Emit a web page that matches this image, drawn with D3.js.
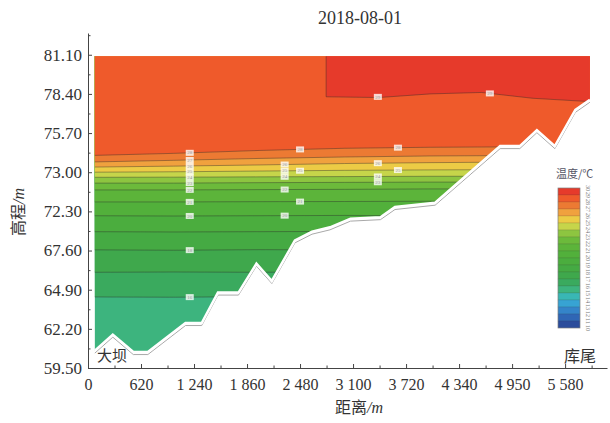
<!DOCTYPE html>
<html>
<head>
<meta charset="utf-8">
<script src="https://d3js.org/d3.v7.min.js"></script>
<style>
  body { margin: 0; background: #fff; }
  .num { font-family: "Liberation Serif", "DejaVu Serif", serif; fill: #333; }
  .cjk { font-family: "Noto Sans CJK SC", sans-serif; fill: #333; }
  .tick text { font-family: "Liberation Serif", "DejaVu Serif", serif; fill: #333; }
  .tick line, .domain { stroke: #444; }
</style>
</head>
<body>
<svg width="610" height="423"></svg>
<script>

var title = "2018-08-01";

// river bed along the section: distance (m) / elevation (m)
var bedDist = [80, 290, 530, 700, 1140, 1330, 1520, 1760, 1970, 2150, 2420, 2620, 2830, 3070, 3420, 3590, 4060, 4820, 5050, 5250, 5460, 5700, 5870];
var bedElev = [60.7, 61.8, 60.6, 60.6, 62.6, 62.6, 64.7, 64.7, 66.7, 65.5, 68.3, 68.9, 69.2, 69.8, 69.9, 70.6, 70.9, 74.8, 74.8, 75.9, 74.8, 77.3, 78.0];
var waterLevel = 81.0;

// isotherms: temperature (C) and their elevation at each station
var isoDist = [0, 1000, 2000, 3000, 4000, 5000, 6070];
var isoTemp = [16, 17, 18, 19, 20, 21, 22, 23, 24, 25, 26, 27, 28];
var isoElev = [
  [64.40, 64.38, 64.42, 64.40, 64.40, 64.40, 64.40],
  [66.10, 66.12, 66.10, 66.14, 66.10, 66.10, 66.10],
  [67.65, 67.62, 67.66, 67.64, 67.65, 67.65, 67.65],
  [68.90, 68.88, 68.90, 68.92, 68.90, 68.90, 68.90],
  [70.00, 69.98, 70.00, 70.02, 70.00, 70.00, 70.00],
  [70.95, 70.95, 70.97, 70.98, 71.00, 71.00, 71.00],
  [71.78, 71.78, 71.80, 71.82, 71.85, 71.85, 71.85],
  [72.25, 72.25, 72.28, 72.30, 72.32, 72.32, 72.32],
  [72.65, 72.66, 72.68, 72.70, 72.72, 72.72, 72.72],
  [73.00, 73.03, 73.08, 73.13, 73.16, 73.18, 73.18],
  [73.35, 73.42, 73.50, 73.60, 73.66, 73.70, 73.70],
  [73.70, 73.82, 73.95, 74.05, 74.12, 74.15, 74.15],
  [74.15, 74.30, 74.50, 74.65, 74.72, 74.75, 74.78]
];
// 29 C warm core on the tail side
var warmTemp = 29;
var warmDist = [2785, 2785, 3400, 4000, 4600, 5200, 6070];
var warmElev = [81.0, 78.20, 78.15, 78.40, 78.50, 78.10, 77.80];

// contour labels: temperature, distance where the label sits
var labelTemp = [28, 27, 26, 25, 24, 23, 22, 21, 20, 18, 16, 26, 25, 24, 22, 20, 28, 25, 21, 26, 24, 23, 28, 25, 29, 29];
var labelDist = [1190, 1190, 1190, 1190, 1190, 1190, 1190, 1190, 1190, 1190, 1190, 2300, 2300, 2300, 2300, 2300, 2480, 2480, 2480, 3390, 3390, 3390, 3625, 3625, 3390, 4700];

// colour scale
var legendLevels = [10, 11, 12, 13, 14, 15, 16, 17, 18, 19, 20, 21, 22, 23, 24, 25, 26, 27, 28, 29, 30];
var bandColors = ["#2b4c9b", "#2f66b5", "#3484c9", "#37a3d3", "#39b7b4", "#3db47e", "#3aaa5e", "#3fa84c", "#45aa43", "#4bad3e",
                  "#52b03b", "#5cb43a", "#6cba3b", "#8dc540", "#c6d54a", "#eccb45", "#f0a13e", "#ec7a33", "#ef5a2b", "#e63a2b"];

var xTicks = [0, 620, 1240, 1860, 2480, 3100, 3720, 4340, 4960, 5580];
var xTickLabels = ["0", "620", "1 240", "1 860", "2 480", "3 100", "3 720", "4 340", "4 950", "5 580"];
var yTicks = [59.5, 62.2, 64.9, 67.6, 70.3, 73.0, 75.7, 78.4, 81.1];
var yTickLabels = ["59.50", "62.20", "64.90", "67.60", "72.30", "73.00", "75.70", "78.40", "81.10"];

var svg = d3.select("svg");

var x = d3.scaleLinear().domain([0, 6070]).range([88, 607]);
var y = d3.scaleLinear().domain([59.5, 82.6]).range([368, 33]);

var color = function(t) { return bandColors[legendLevels.indexOf(t)]; };

// water body = bed + surface
var bed = bedDist.map(function(d, i) { return [d, bedElev[i]]; });
var water = bed.concat([[bedDist[bedDist.length - 1], waterLevel], [bedDist[0], waterLevel]]);

svg.append("clipPath").attr("id", "water")
  .append("path")
  .attr("d", d3.line().x(function(d) { return x(d[0]); }).y(function(d) { return y(d[1]); })(water) + "Z");

var plot = svg.append("g").attr("clip-path", "url(#water)");

plot.append("rect")
  .attr("x", x(0)).attr("y", y(82.6))
  .attr("width", x(6070) - x(0)).attr("height", y(59.5) - y(82.6))
  .attr("fill", color(15));

var isoLines = isoTemp.map(function(t, k) {
  return { t: t, pts: isoDist.map(function(d, i) { return [d, isoElev[k][i]]; }) };
});
isoLines.push({ t: warmTemp, pts: warmDist.map(function(d, i) { return [d, warmElev[i]]; }) });

var area = d3.area()
  .x(function(d) { return x(d[0]); })
  .y0(y(82.6))
  .y1(function(d) { return y(d[1]); });

plot.selectAll(".band")
  .data(isoLines)
  .enter().append("path")
  .attr("d", function(d) { return area(d.pts); })
  .attr("fill", function(d) { return color(d.t); });

plot.selectAll(".iso")
  .data(isoLines)
  .enter().append("path")
  .attr("d", function(d) { return d3.line().x(function(p) { return x(p[0]); }).y(function(p) { return y(p[1]); })(d.pts); })
  .attr("fill", "none")
  .attr("stroke", "#2a2a2a")
  .attr("stroke-opacity", 0.45)
  .attr("stroke-width", 0.9);

// contour labels
function isoAt(t, d) {
  var iso = isoLines.find(function(l) { return l.t === t; });
  var p = iso.pts.filter(function(q, i) { return i === 0 || q[0] !== iso.pts[i - 1][0]; });
  var xs = p.map(function(q) { return q[0]; }), es = p.map(function(q) { return q[1]; });
  return d3.scaleLinear().domain(xs).range(es)(d);
}
var lab = plot.selectAll(".lab")
  .data(labelTemp.map(function(t, i) { return { t: t, d: labelDist[i] }; }))
  .enter().append("g")
  .attr("transform", function(d) { return "translate(" + x(d.d) + "," + y(isoAt(d.t, d.d)) + ")"; });
lab.append("rect")
  .attr("x", -4).attr("y", -3).attr("width", 8).attr("height", 6)
  .attr("fill", "#fff").attr("fill-opacity", 0.8);
lab.append("text")
  .attr("class", "num")
  .attr("text-anchor", "middle")
  .attr("dy", "0.33em")
  .style("font-size", "5px")
  .style("fill", "#999")
  .text(function(d) { return d.t; });

// bed outline
var bedLine = d3.line().x(function(d) { return x(d[0]); }).y(function(d) { return y(d[1]); });
svg.append("path").attr("d", bedLine(bed))
  .attr("fill", "none").attr("stroke", "#a9a9a9").attr("stroke-width", 1)
  .attr("transform", "translate(0,2.5)");
svg.append("path").attr("d", bedLine(bed))
  .attr("fill", "none").attr("stroke", "#fff").attr("stroke-width", 2.5);

// axes
var xAxis = svg.append("g")
  .attr("transform", "translate(0," + y(59.5) + ")")
  .call(d3.axisBottom(x).tickValues(xTicks)
    .tickFormat(function(d, i) { return xTickLabels[i]; })
    .tickSizeInner(-4).tickSizeOuter(0).tickPadding(11));
xAxis.selectAll("text").style("font-size", "16px");
svg.append("g")
  .attr("transform", "translate(0," + y(59.5) + ")")
  .call(d3.axisBottom(x).tickValues(xTicks.map(function(d) { return d + 310; }))
    .tickFormat("").tickSizeInner(-2.5).tickSizeOuter(0))
  .select(".domain").remove();

var yAxis = svg.append("g")
  .attr("transform", "translate(" + x(0) + ",0)")
  .call(d3.axisLeft(y).tickValues(yTicks)
    .tickFormat(function(d, i) { return yTickLabels[i]; })
    .tickSizeInner(-4).tickSizeOuter(0).tickPadding(6));
yAxis.selectAll("text").style("font-size", "17px");
svg.append("g")
  .attr("transform", "translate(" + x(0) + ",0)")
  .call(d3.axisLeft(y).tickValues(yTicks.map(function(d) { return d + 1.35; }))
    .tickFormat("").tickSizeInner(-2.5).tickSizeOuter(0))
  .select(".domain").remove();

// titles
svg.append("text").attr("class", "num")
  .attr("x", 360).attr("y", 24)
  .attr("text-anchor", "middle")
  .style("font-size", "18px")
  .text(title);

var yl = svg.append("text").attr("class", "cjk")
  .attr("transform", "translate(24,212) rotate(-90)")
  .attr("text-anchor", "middle")
  .style("font-size", "16px");
yl.append("tspan").text("高程");
yl.append("tspan").attr("class", "num").style("font-style", "italic").text("/m");

var xl = svg.append("text").attr("class", "cjk")
  .attr("x", 359).attr("y", 413)
  .attr("text-anchor", "middle")
  .style("font-size", "16px");
xl.append("tspan").text("距离");
xl.append("tspan").attr("class", "num").style("font-style", "italic").text("/m");

svg.append("text").attr("class", "cjk")
  .attr("x", 97).attr("y", 361)
  .style("font-size", "15px")
  .text("大坝");
svg.append("text").attr("class", "cjk")
  .attr("x", 564).attr("y", 362)
  .style("font-size", "16px")
  .text("库尾");

// legend
var lg = svg.append("g").attr("transform", "translate(558,188)");
var segH = 7;
var bands = legendLevels.slice(0, -1).reverse();
lg.selectAll("rect")
  .data(bands)
  .enter().append("rect")
  .attr("x", 0).attr("y", function(d, i) { return i * segH; })
  .attr("width", 22).attr("height", segH)
  .attr("fill", function(d) { return color(d); })
  .attr("stroke", "#333").attr("stroke-opacity", 0.25).attr("stroke-width", 0.5);
lg.append("rect")
  .attr("width", 22).attr("height", bands.length * segH)
  .attr("fill", "none").attr("stroke", "#888").attr("stroke-width", 0.6);
lg.selectAll(".lv")
  .data(legendLevels.slice().reverse())
  .enter().append("text")
  .attr("class", "num")
  .attr("transform", function(d, i) { return "translate(28," + (i * segH) + ") rotate(90)"; })
  .attr("text-anchor", "middle")
  .style("font-size", "6px")
  .style("fill", "#777")
  .text(function(d) { return d; });
svg.append("text").attr("class", "cjk")
  .attr("x", 556).attr("y", 178)
  .style("font-size", "11px")
  .style("fill", "#556")
  .text("温度/℃");

</script>
</body>
</html>
